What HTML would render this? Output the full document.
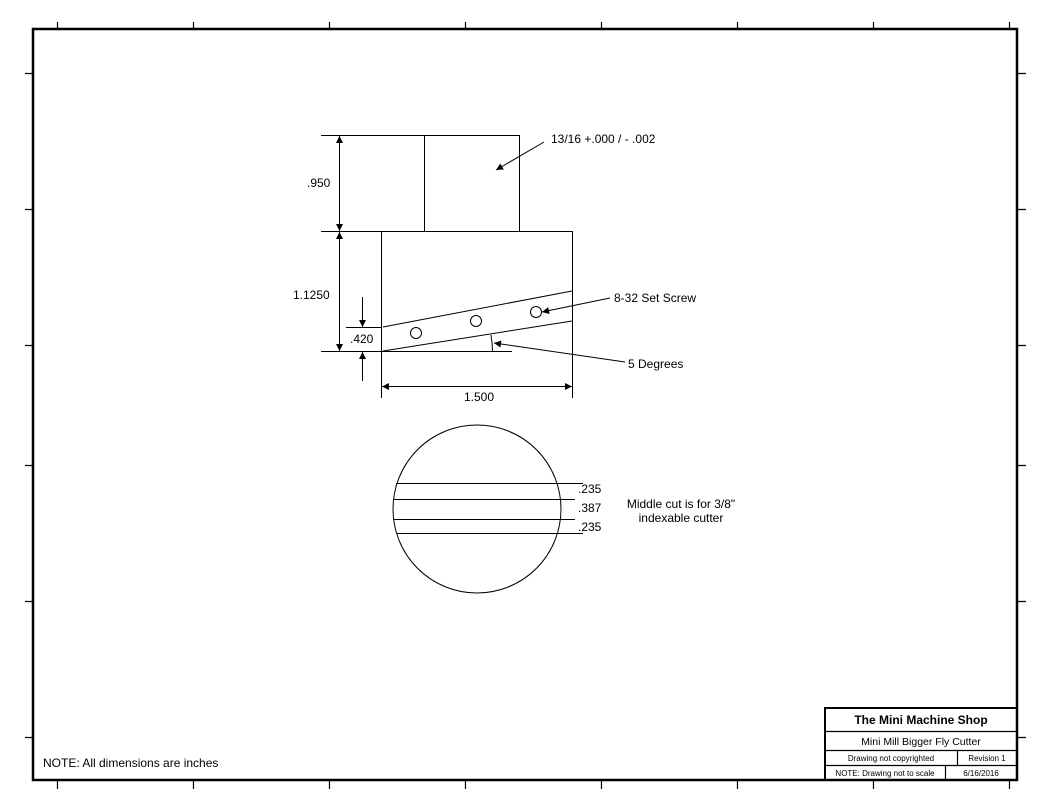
<!DOCTYPE html>
<html><head><meta charset="utf-8"><style>
html,body{margin:0;padding:0;background:#fff;}
svg{display:block;}
text{font-family:"Liberation Sans",Arial,sans-serif;fill:#000;}
</style></head><body>
<svg width="1050" height="810" viewBox="0 0 1050 810" xmlns="http://www.w3.org/2000/svg">
<defs>
<marker id="a" viewBox="0 0 10 10" refX="10" refY="5" markerWidth="14" markerHeight="7" markerUnits="userSpaceOnUse" orient="auto"><path d="M0,0 L10,5 L0,10 z" fill="#000"/></marker>
</defs>
<rect x="33" y="29" width="984" height="751" fill="none" stroke="#000" stroke-width="2.5"/>
<g stroke="#000" stroke-width="1.2">
<path d="M57.5 22V29M193.5 22V29M329.5 22V29M465.5 22V29M601.5 22V29M737.5 22V29M873.5 22V29M1009.5 22V29"/>
<path d="M57.5 780V789M193.5 780V789M329.5 780V789M465.5 780V789M601.5 780V789M737.5 780V789M873.5 780V789M1009.5 780V789"/>
<path d="M25 73.5H33M25 209.5H33M25 345.5H33M25 465.5H33M25 601.5H33M25 737.5H33"/>
<path d="M1017 73.5H1026M1017 209.5H1026M1017 345.5H1026M1017 465.5H1026M1017 601.5H1026M1017 737.5H1026"/>
</g>
<g stroke="#000" stroke-width="1" fill="none">
<path d="M321 135.5H519.5V231.5M424.5 135.5V231.5"/>
<path d="M321 231.5H572.5V398M381.5 231.5V398"/>
<path d="M321 351.5H512"/>
<path d="M346 327.5H381"/>
<path d="M383 327L572 291M383 351L572 321"/>
<circle cx="416" cy="333" r="5.5"/>
<circle cx="476" cy="321" r="5.5"/>
<circle cx="536" cy="312" r="5.5"/>
<path d="M491 335 A108 108 0 0 1 492.5 351"/>
<line x1="339.5" y1="183" x2="339.5" y2="136" marker-end="url(#a)"/>
<line x1="339.5" y1="183" x2="339.5" y2="231" marker-end="url(#a)"/>
<line x1="339.5" y1="291" x2="339.5" y2="232" marker-end="url(#a)"/>
<line x1="339.5" y1="291" x2="339.5" y2="351" marker-end="url(#a)"/>
<line x1="362.5" y1="297" x2="362.5" y2="327" marker-end="url(#a)"/>
<line x1="362.5" y1="381" x2="362.5" y2="352" marker-end="url(#a)"/>
<line x1="476" y1="386.5" x2="382" y2="386.5" marker-end="url(#a)"/>
<line x1="476" y1="386.5" x2="572" y2="386.5" marker-end="url(#a)"/>
<line x1="544" y1="142" x2="496" y2="170" marker-end="url(#a)"/>
<line x1="610" y1="298" x2="542" y2="312" marker-end="url(#a)"/>
<line x1="625" y1="362" x2="494" y2="343" marker-end="url(#a)"/>
<circle cx="477" cy="509" r="84"/>
<path d="M396 483.5H583M393 499.5H575M393 519.5H575M397 533.5H583"/>
</g>
<g font-size="12">
<text x="551" y="143">13/16 +.000 / - .002</text>
<text x="307" y="187">.950</text>
<text x="293" y="299">1.1250</text>
<text x="350" y="343">.420</text>
<text x="464" y="401">1.500</text>
<text x="614" y="302">8-32 Set Screw</text>
<text x="628" y="368">5 Degrees</text>
<text x="578" y="493">.235</text>
<text x="578" y="512">.387</text>
<text x="578" y="531">.235</text>
<text x="681" y="508" text-anchor="middle">Middle cut is for 3/8"</text>
<text x="681" y="522" text-anchor="middle">indexable cutter</text>
<text x="43" y="767">NOTE: All dimensions are inches</text>
</g>
<g stroke="#000" fill="none">
<rect x="825" y="708" width="192" height="72" stroke-width="2"/>
<path d="M825 731.5H1017M825 750.5H1017M825 765.5H1017" stroke-width="1.2"/>
<path d="M957.5 750V765M945.5 765V780" stroke-width="1.2"/>
</g>
<text x="921" y="724" font-size="12" font-weight="bold" text-anchor="middle">The Mini Machine Shop</text>
<text x="921" y="745" font-size="10.5" text-anchor="middle">Mini Mill Bigger Fly Cutter</text>
<text x="891" y="761" font-size="8" text-anchor="middle">Drawing not copyrighted</text>
<text x="987" y="761" font-size="8" text-anchor="middle">Revision  1</text>
<text x="885" y="776" font-size="8" text-anchor="middle">NOTE: Drawing not to scale</text>
<text x="981" y="776" font-size="8" text-anchor="middle">6/16/2016</text>
</svg>
</body></html>
